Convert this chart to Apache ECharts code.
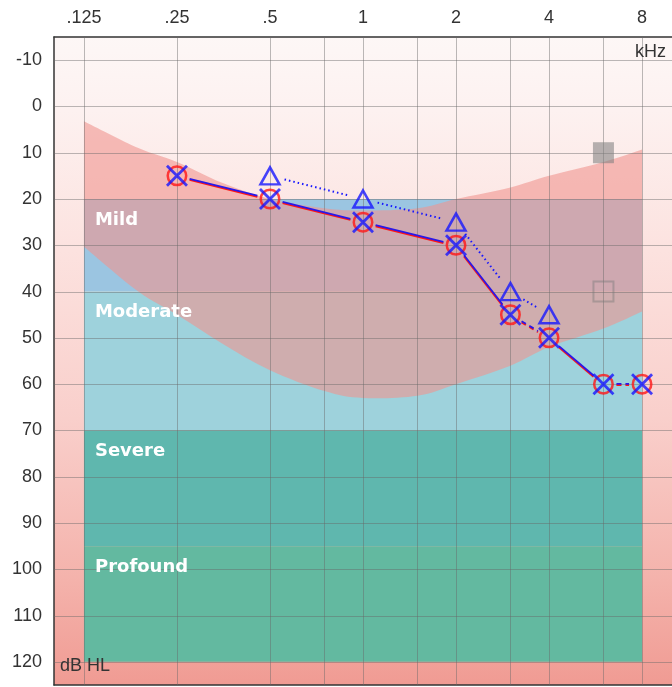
<!DOCTYPE html>
<html>
<head>
<meta charset="utf-8">
<script src="https://cdn.jsdelivr.net/npm/echarts@6/dist/echarts.min.js"></script>
<style>
html,body{margin:0;padding:0;background:#fff;}
#chart{width:672px;height:687px;}
</style>
</head>
<body>
<div id="chart"></div>
<script>
// ---- axis ticks ----
const xTickFreqs = [0.125, 0.25, 0.5, 1, 2, 4, 8];
const xTickLabels = ['.125', '.25', '.5', '1', '2', '4', '8'];
const xGridFreqs = [0.125, 0.25, 0.5, 0.75, 1, 1.5, 2, 3, 4, 6, 8];
const yTickValues = [-10, 0, 10, 20, 30, 40, 50, 60, 70, 80, 90, 100, 110, 120];

// ---- degree of hearing loss bands ----
const degreeNames = ['Mild', 'Moderate', 'Severe', 'Profound'];
const degreeTop = [20, 40, 70, 95];
const degreeBottom = [40, 70, 95, 120];
const degreeFreqRange = [0.125, 8];

// ---- speech banana ----
const bananaFreqs = [0.125, 0.1875, 0.25, 0.35, 0.5, 0.75, 1, 1.5, 2, 3, 4, 6, 8];
const bananaTop = [3.2, 9, 12, 16.5, 20, 22, 22.5, 22, 20, 17.5, 15, 12, 9.3];
const bananaBottom = [30.3, 40, 45, 51.2, 57, 61.5, 63, 62.5, 60, 56, 52, 48, 44.3];

// ---- thresholds ----
const acFreqs = [0.25, 0.5, 1, 2, 3, 4, 6, 8];
const rightAC = [15, 20, 25, 30, 45, 50, 60, 60];   // red O
const leftAC = [15, 20, 25, 30, 45, 50, 60, 60];    // blue X
const acDashedSegments = [4, 6];                    // segment i -> i+1 drawn dashed
const triFreqs = [0.5, 1, 2, 3, 4];
const triValues = [15, 20, 25, 40, 45];             // blue triangles
const graySquareFreqs = [6];
const graySquareFilled = [10];
const graySquareOpen = [40];

// ---- styles ----
const degreeColors = ['#9bc5e1', '#9ed2dc', '#5fb7ae', '#63b9a0'];
const bananaColor = 'rgba(240,149,143,0.6)';
const gridLineColor = 'rgba(105,105,105,0.45)';
const RED = '#ff1616';
const BLUE = '#1616ff';
const textFont = 'Liberation Sans';

const chart = echarts.init(document.getElementById('chart'), null, {renderer: 'canvas'});

function pairs(xs, ys) { return xs.map((x, i) => [x, ys[i]]); }
function segments(xs, ys, dashedIdx) {
  const out = [];
  for (let i = 0; i < xs.length - 1; i++) {
    out.push([xs[i], ys[i], xs[i + 1], ys[i + 1], dashedIdx && dashedIdx.indexOf(i) >= 0 ? 1 : 0]);
  }
  return out;
}
// Catmull-Rom -> cubic bezier through pixel points (continuing an open path)
function smoothSegs(pts) {
  let d = '';
  for (let i = 0; i < pts.length - 1; i++) {
    const p0 = pts[i - 1] || pts[i], p1 = pts[i], p2 = pts[i + 1], p3 = pts[i + 2] || pts[i + 1];
    const c1 = [p1[0] + (p2[0] - p0[0]) / 6, p1[1] + (p2[1] - p0[1]) / 6];
    const c2 = [p2[0] - (p3[0] - p1[0]) / 6, p2[1] - (p3[1] - p1[1]) / 6];
    d += ' C' + c1[0] + ' ' + c1[1] + ' ' + c2[0] + ' ' + c2[1] + ' ' + p2[0] + ' ' + p2[1];
  }
  return d;
}
function gapLineSeries(name, data, color, width, dashSolid, dashDashed, gap, dy, z) {
  return {
    name, type: 'custom', z, silent: true, data,
    renderItem(params, api) {
      const p0 = api.coord([api.value(0), api.value(1)]);
      const p1 = api.coord([api.value(2), api.value(3)]);
      const dx = p1[0] - p0[0], dyy = p1[1] - p0[1];
      const len = Math.sqrt(dx * dx + dyy * dyy);
      const ux = dx / len, uy = dyy / len;
      const dashed = api.value(4) === 1;
      return {
        type: 'line',
        shape: {
          x1: p0[0] + ux * gap, y1: p0[1] + uy * gap + dy,
          x2: p1[0] - ux * gap, y2: p1[1] - uy * gap + dy
        },
        style: {stroke: color, lineWidth: width, lineDash: dashed ? dashDashed : dashSolid, fill: null}
      };
    }
  };
}

const xLabelFormatter = function (v) {
  for (let i = 0; i < xTickFreqs.length; i++) {
    if (Math.abs(Math.log2(v) - Math.log2(xTickFreqs[i])) < 1e-6) return xTickLabels[i];
  }
  return '';
};

const option = {
  animation: false,
  backgroundColor: '#ffffff',
  grid: {
    left: 54, right: 0, top: 37, bottom: 2, show: true, borderWidth: 0,
    backgroundColor: {
      type: 'linear', x: 0, y: 0, x2: 0, y2: 1,
      colorStops: [
        {offset: 0, color: '#fdf7f6'},
        {offset: 0.1, color: '#fdf2f1'},
        {offset: 0.33, color: '#fce2df'},
        {offset: 0.59, color: '#f9cfcb'},
        {offset: 0.84, color: '#f4b2ab'},
        {offset: 1, color: '#f09b93'}
      ]
    }
  },
  xAxis: [{
    type: 'log', logBase: 2, min: 0.1, max: 10, position: 'top',
    axisLine: {show: true, onZero: false, lineStyle: {color: '#333', width: 1.5}},
    axisTick: {show: false}, splitLine: {show: false}, minorTick: {show: false},
    axisLabel: {margin: 10, fontSize: 18, fontFamily: textFont, color: '#333', formatter: xLabelFormatter,
      showMinLabel: false, showMaxLabel: false}
  }, {
    type: 'log', logBase: 2, min: 0.1, max: 10, position: 'bottom',
    axisLine: {show: true, onZero: false, lineStyle: {color: '#333', width: 1.5}},
    axisTick: {show: false}, splitLine: {show: false}, axisLabel: {show: false}
  }],
  yAxis: {
    type: 'value', inverse: true, min: -15, max: 125, interval: 5,
    axisLine: {show: true, onZero: false, lineStyle: {color: '#333', width: 1.5}},
    axisTick: {show: false}, splitLine: {show: false},
    axisLabel: {
      margin: 12, fontSize: 18, fontFamily: textFont, color: '#333',
      formatter: v => (yTickValues.indexOf(v) >= 0 ? String(v) : '')
    }
  },
  graphic: [
    {type: 'text', right: 6, top: 43, z: 100, style: {text: 'kHz', font: '18px "Liberation Sans"', fill: '#333'}},
    {type: 'text', left: 60, top: 657, z: 100, style: {text: 'dB HL', font: '18px "Liberation Sans"', fill: '#333'}}
  ],
  series: [
    // degree bands
    {
      name: 'degree', type: 'custom', z: 1, silent: true,
      data: degreeNames.map((n, i) => [degreeFreqRange[0], degreeTop[i], degreeFreqRange[1], degreeBottom[i], i]),
      renderItem(params, api) {
        const p0 = api.coord([api.value(0), api.value(1)]);
        const p1 = api.coord([api.value(2), api.value(3)]);
        return {
          type: 'rect',
          shape: {x: p0[0], y: p0[1], width: p1[0] - p0[0], height: p1[1] - p0[1]},
          style: {fill: degreeColors[api.value(4)]}
        };
      }
    },
    // speech banana (smooth band between top and bottom curves)
    {
      name: 'banana', type: 'custom', z: 2, silent: true,
      data: bananaFreqs.map((f, i) => [f, bananaTop[i], bananaBottom[i]]),
      renderItem(params, api) {
        if (params.dataIndex !== 0) return null;
        const topPts = bananaFreqs.map((f, i) => api.coord([f, bananaTop[i]]));
        const botPts = bananaFreqs.map((f, i) => api.coord([f, bananaBottom[i]])).reverse();
        let d = 'M' + topPts[0][0] + ' ' + topPts[0][1] + smoothSegs(topPts);
        d += ' L' + botPts[0][0] + ' ' + botPts[0][1] + smoothSegs(botPts) + ' Z';
        return {type: 'path', shape: {pathData: d}, style: {fill: bananaColor}};
      }
    },
    // grid lines (drawn over the fills)
    {
      name: 'vgrid', type: 'custom', z: 3, silent: true,
      data: xGridFreqs.map(f => [f, 0]),
      renderItem(params, api) {
        const cs = params.coordSys;
        const x = Math.round(api.coord([api.value(0), 0])[0]) + 0.5;
        return {type: 'line', shape: {x1: x, y1: cs.y, x2: x, y2: cs.y + cs.height},
          style: {stroke: gridLineColor, lineWidth: 1}};
      }
    },
    {
      name: 'hgrid', type: 'custom', z: 3, silent: true,
      data: yTickValues.map(v => [1, v]),
      renderItem(params, api) {
        const cs = params.coordSys;
        const y = Math.round(api.coord([1, api.value(1)])[1]) + 0.5;
        return {type: 'line', shape: {x1: cs.x, y1: y, x2: cs.x + cs.width, y2: y},
          style: {stroke: gridLineColor, lineWidth: 1}};
      }
    },
    // band labels
    {
      name: 'degreeLabels', type: 'custom', z: 4, silent: true,
      data: degreeNames.map((n, i) => [degreeFreqRange[0], degreeTop[i], i]),
      renderItem(params, api) {
        const p = api.coord([api.value(0), api.value(1)]);
        return {
          type: 'text', x: p[0] + 11, y: p[1] + 21,
          style: {text: degreeNames[api.value(2)], fill: '#ffffff', font: 'bold 18px "DejaVu Sans"',
            textAlign: 'left', textVerticalAlign: 'middle', verticalAlign: 'middle'}
        };
      }
    },
    // connecting lines
    gapLineSeries('triLine', segments(triFreqs, triValues), BLUE, 2, [1.5, 3], [1.5, 3], 15, 0, 5),
    gapLineSeries('rightLine', segments(acFreqs, rightAC, acDashedSegments), RED, 2, null, [5, 4], 13, 0.9, 5),
    gapLineSeries('leftLine', segments(acFreqs, leftAC, acDashedSegments), '#2a18e8', 1.8, null, [5, 4], 13, -0.2, 5),
    // gray squares
    {
      name: 'grayFilled', type: 'scatter', z: 6, silent: true, symbol: 'rect', symbolSize: 21,
      itemStyle: {color: 'rgba(128,128,128,0.72)'},
      data: pairs(graySquareFreqs, graySquareFilled)
    },
    {
      name: 'grayOpen', type: 'scatter', z: 6, silent: true, symbol: 'rect', symbolSize: 20,
      itemStyle: {color: 'transparent', borderColor: 'rgba(120,120,120,0.55)', borderWidth: 2},
      data: pairs(graySquareFreqs, graySquareOpen)
    },
    // triangles
    {
      name: 'triangles', type: 'scatter', z: 7, silent: true, symbol: 'triangle', symbolSize: [19, 17],
      itemStyle: {color: 'transparent', borderColor: BLUE, borderWidth: 2.5},
      data: pairs(triFreqs, triValues)
    },
    // right ear O
    {
      name: 'rightO', type: 'scatter', z: 7, silent: true, symbol: 'circle', symbolSize: 18.5,
      itemStyle: {color: 'transparent', borderColor: RED, borderWidth: 2.5},
      data: pairs(acFreqs, rightAC)
    },
    // left ear X
    {
      name: 'leftX', type: 'scatter', z: 8, silent: true, symbol: 'path://M0,0L20,20M20,0L0,20', symbolSize: 20,
      itemStyle: {color: 'transparent', borderColor: BLUE, borderWidth: 2.8},
      data: pairs(acFreqs, leftAC)
    }
  ]
};
chart.setOption(option);
</script>
</body>
</html>
